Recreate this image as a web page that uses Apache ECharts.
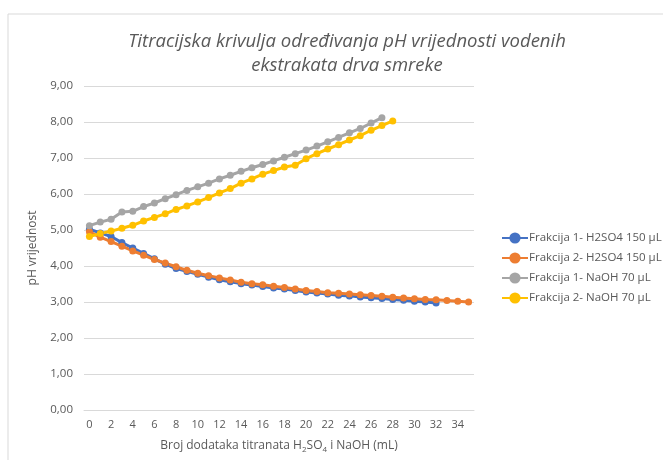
<!DOCTYPE html>
<html>
<head>
<meta charset="utf-8">
<script src="https://cdn.jsdelivr.net/npm/echarts@6/dist/echarts.min.js"></script>
<style>
  html, body { margin: 0; padding: 0; background: #fff; }
  #chart1 { width: 663px; height: 460px; }
</style>
</head>
<body>
<div id="chart1"></div>
<script>
// x categories (broj dodataka)
var xData = [];
for (var i = 0; i <= 35; i++) xData.push(String(i));

var h2so4Frak1 = [5.02, 4.92, 4.82, 4.65, 4.50, 4.35, 4.20, 4.05, 3.93, 3.85, 3.77, 3.69, 3.62, 3.56, 3.51, 3.47,
  3.43, 3.39, 3.36, 3.32, 3.28, 3.25, 3.22, 3.19, 3.17, 3.14, 3.12, 3.10, 3.07, 3.05, 3.02, 3.00, 2.97];
var h2so4Frak2 = [4.95, 4.80, 4.68, 4.55, 4.42, 4.30, 4.18, 4.08, 3.98, 3.88, 3.80, 3.73, 3.67, 3.61, 3.55, 3.51,
  3.48, 3.44, 3.40, 3.36, 3.32, 3.29, 3.26, 3.24, 3.22, 3.20, 3.18, 3.16, 3.13, 3.11, 3.09, 3.07, 3.06, 3.04, 3.02, 3.00];
var naohFrak1 = [5.12, 5.22, 5.30, 5.50, 5.52, 5.65, 5.75, 5.87, 5.98, 6.10, 6.20, 6.30, 6.42, 6.52, 6.63, 6.73,
  6.82, 6.92, 7.02, 7.12, 7.22, 7.33, 7.45, 7.57, 7.70, 7.82, 7.97, 8.12];
var naohFrak2 = [4.82, 4.90, 4.97, 5.05, 5.13, 5.25, 5.35, 5.45, 5.57, 5.67, 5.78, 5.90, 6.03, 6.15, 6.30, 6.42,
  6.55, 6.65, 6.75, 6.80, 6.98, 7.12, 7.25, 7.37, 7.50, 7.62, 7.77, 7.90, 8.03];

var seriesNames = ['Frakcija 1- H2SO4 150 µL', 'Frakcija 2- H2SO4 150 µL', 'Frakcija 1- NaOH 70 µL', 'Frakcija 2- NaOH 70 µL'];
var seriesColors = ['#4472C4', '#ED7D31', '#A5A5A5', '#FFC000'];
var seriesData = [h2so4Frak1, h2so4Frak2, naohFrak1, naohFrak2];

var font = 'Open Sans';
var myChart1 = echarts.init(document.getElementById('chart1'));

var series = seriesData.map(function (d, i) {
  return {
    name: seriesNames[i],
    type: 'line',
    data: d,
    color: seriesColors[i],
    symbol: 'circle',
    symbolSize: 7,
    lineStyle: { width: 3 },
    animation: false
  };
});

var option = {
  animation: false,
  graphic: [{
    type: 'rect',
    shape: { x: 8, y: 14, width: 700, height: 500 },
    style: { fill: 'none', stroke: '#d9d9d9', lineWidth: 1 },
    silent: true
  }],
  title: {
    text: 'Titracijska krivulja određivanja pH vrijednosti vodenih\nekstrakata drva smreke',
    left: 342,
    textAlign: 'center',
    top: 25,
    textStyle: {
      fontFamily: font,
      fontStyle: 'italic',
      fontWeight: 'normal',
      fontSize: 18.5,
      lineHeight: 24,
      color: '#595959'
    }
  },
  legend: {
    orient: 'vertical',
    left: 496,
    top: 226,
    itemGap: 6,
    itemWidth: 26,
    itemHeight: 14,
    data: seriesNames,
    textStyle: { fontFamily: font, fontSize: 11.5, lineHeight: 14, height: 14, color: '#595959', padding: [0, 0, 0, -4] }
  },
  grid: {
    left: 84,
    right: 189,
    top: 86,
    bottom: 50,
    containLabel: false
  },
  xAxis: {
    type: 'category',
    data: xData,
    boundaryGap: true,
    axisLine: { lineStyle: { color: '#d9d9d9' } },
    axisTick: { show: false },
    axisLabel: { interval: 1, fontFamily: font, fontSize: 11, color: '#595959', margin: 9 },
    name: 'Broj dodataka titranata H{s|2}SO{s|4} i NaOH (mL)',
    nameLocation: 'middle',
    nameGap: 28,
    nameTextStyle: {
      fontFamily: font, fontSize: 12, color: '#595959',
      rich: { s: { fontFamily: font, fontSize: 8, color: '#595959', verticalAlign: 'bottom', padding: [8, 0, 0, 0] } }
    }
  },
  yAxis: {
    type: 'value',
    min: 0,
    max: 9,
    interval: 1,
    axisLine: { show: false },
    axisTick: { show: false },
    splitLine: { lineStyle: { color: '#d9d9d9' } },
    axisLabel: {
      fontFamily: font, fontSize: 11.5, color: '#595959', margin: 11,
      formatter: function (v) { return v.toFixed(2).replace('.', ','); }
    },
    name: 'pH vrijednost',
    nameLocation: 'middle',
    nameGap: 45,
    nameTextStyle: { fontFamily: font, fontSize: 12, color: '#595959' }
  },
  series: series
};
myChart1.setOption(option);
</script>
</body>
</html>
